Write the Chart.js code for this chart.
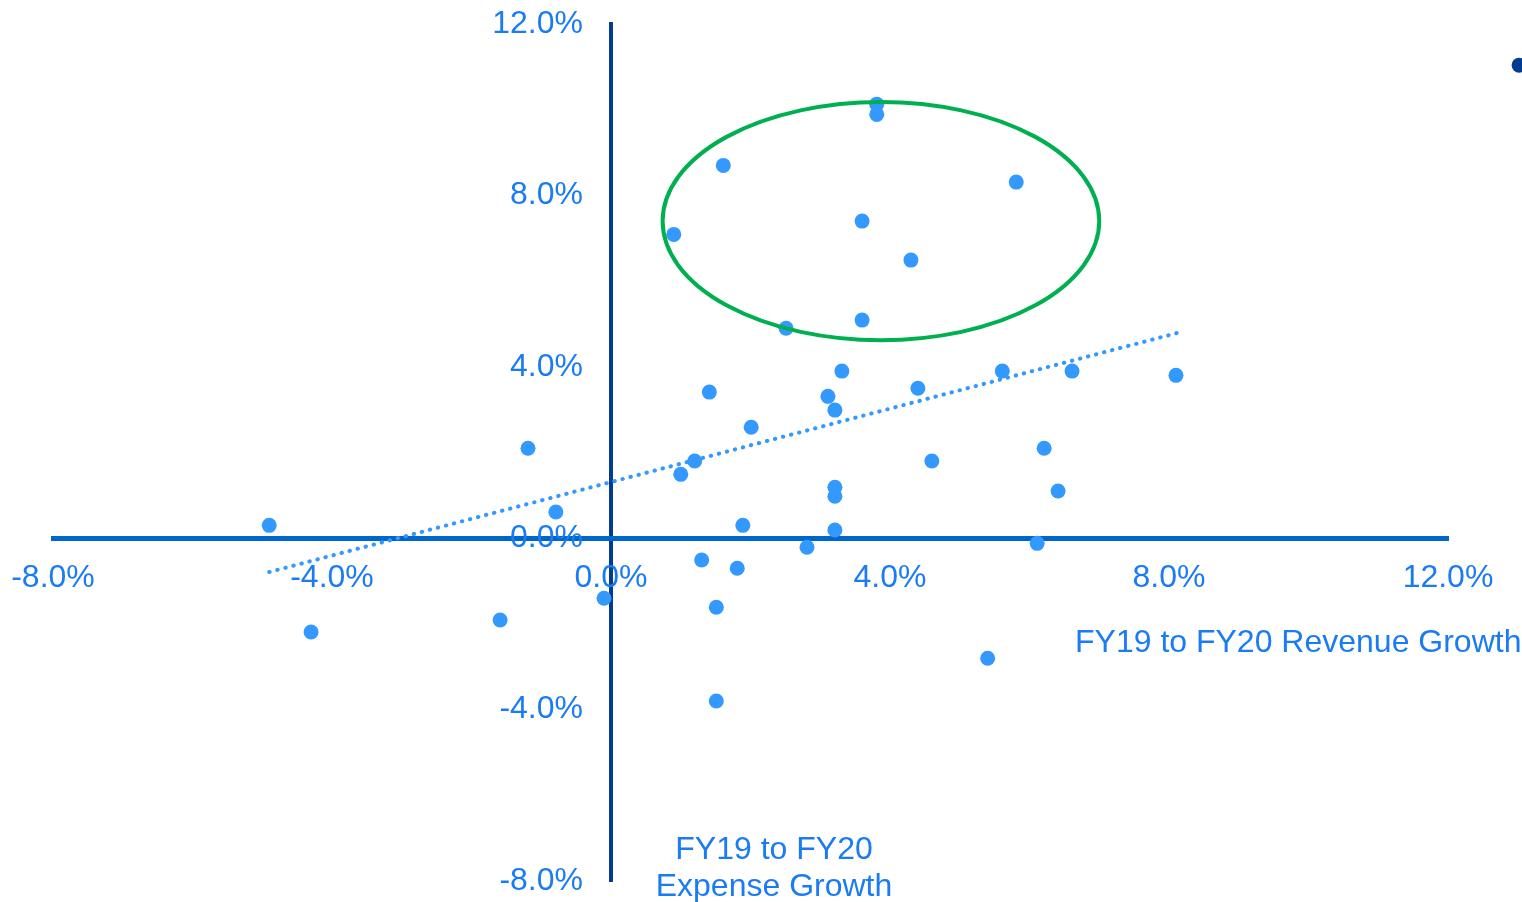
<!DOCTYPE html>
<html>
<head>
<meta charset="utf-8">
<script src="https://cdn.jsdelivr.net/npm/chart.js@4.4.1/dist/chart.umd.min.js"></script>
<style>
  html, body { margin: 0; padding: 0; background: #fff; }
  #wrap { position: relative; width: 1522px; height: 902px; }
  .title {
    position: absolute;
    font-family: "Liberation Sans", Arial, sans-serif;
    font-size: 32px;
    color: #1a7cf5;
    white-space: nowrap;
  }
</style>
</head>
<body>
<div id="wrap">
  <canvas id="chart" width="1522" height="902"></canvas>
  <div class="title" id="revTitle" style="left:1075px; top:623px;">FY19 to FY20 Revenue Growth</div>
  <div class="title" id="expTitle" style="left:774px; top:830px; transform:translateX(-50%); text-align:center; line-height:37px;">FY19 to FY20<br>Expense Growth</div>
</div>
<script>
// Growth, in percent
const revenueGrowth = [3.81, 3.81, 1.61, 5.81, 0.90, 3.60, 4.30, 2.51, 3.60, 3.31,
  5.61, 6.61, 8.10, 1.41, 4.40, 3.11, 3.21, 2.01, -1.19, 6.21,
  1.20, 4.60, 1.00, 3.21, 3.21, 6.41, -0.79, -4.90, 1.89, 3.21,
  2.81, 6.11, 1.30, 1.81, -0.10, 1.51, -1.59, -4.30, 5.40, 1.51];
const expenseGrowth = [10.13, 9.89, 8.70, 8.31, 7.09, 7.40, 6.49, 4.90, 5.09, 3.90,
  3.90, 3.90, 3.80, 3.41, 3.50, 3.31, 2.99, 2.59, 2.10, 2.10,
  1.80, 1.80, 1.49, 1.19, 0.98, 1.10, 0.61, 0.30, 0.30, 0.19,
  -0.21, -0.12, -0.51, -0.70, -1.40, -1.61, -1.91, -2.19, -2.80, -3.80];

// dotted trend line ends
const trendX = [-4.90, 8.12];
const trendY = [-0.79, 4.79];

// legend marker, mostly cut off at the right edge
const legendX = [13.02];
const legendY = [11.04];

// highlighted group: centre x, centre y, radius x, radius y
const highlight = [3.87, 7.40, 3.13, 2.78];

const tickValues = [-8, -4, 0, 4, 8, 12];
const axisMin = -8;
const axisMax = 12;

const labelColor = "#1a7cf5";
const pointColor = "#3399ff";
const fontFamily = "'Liberation Sans', Arial, sans-serif";

const toPoints = (xs, ys) => xs.map((x, i) => ({ x: x, y: ys[i] }));
const fmt = (v) => v.toFixed(1) + "%";

const ellipsePlugin = {
  id: "highlightEllipse",
  afterDatasetsDraw(chart) {
    const { ctx, scales } = chart;
    const cx = scales.x.getPixelForValue(highlight[0]);
    const cy = scales.y.getPixelForValue(highlight[1]);
    const rx = Math.abs(scales.x.getPixelForValue(highlight[0] + highlight[2]) - cx);
    const ry = Math.abs(scales.y.getPixelForValue(highlight[1] + highlight[3]) - cy);
    ctx.save();
    ctx.beginPath();
    ctx.ellipse(cx, cy, rx, ry, 0, 0, Math.PI * 2);
    ctx.strokeStyle = "#00b050";
    ctx.lineWidth = 4;
    ctx.stroke();
    ctx.restore();
  }
};

// points of unclipped datasets that lie outside the plot area
const outsidePointsPlugin = {
  id: "outsidePoints",
  afterDatasetsDraw(chart) {
    const full = { left: 0, top: 0, right: chart.width, bottom: chart.height };
    chart.data.datasets.forEach((ds, i) => {
      if (ds.clip !== false) return;
      chart.getDatasetMeta(i).data.forEach((pt) => pt.draw(chart.ctx, full));
    });
  }
};

// y tick labels sit left of the centred axis, with a gap
const yLabelsPlugin = {
  id: "yLabels",
  beforeDatasetsDraw(chart) {
    const { ctx, scales } = chart;
    const x0 = scales.x.getPixelForValue(0);
    ctx.save();
    ctx.font = "32px " + fontFamily;
    ctx.fillStyle = labelColor;
    ctx.textAlign = "right";
    ctx.textBaseline = "middle";
    scales.y.ticks.forEach((t) => {
      ctx.fillText(fmt(t.value), x0 - 28, scales.y.getPixelForValue(t.value));
    });
    ctx.restore();
  }
};

const fixRange = (axis) => { axis.min = axisMin; axis.max = axisMax; };
const setTicks = (axis) => { axis.ticks = tickValues.map(v => ({ value: v })); };
const noPadding = (axis) => {
  axis.paddingLeft = 0; axis.paddingRight = 0; axis.paddingTop = 0; axis.paddingBottom = 0;
};

new Chart(document.getElementById("chart").getContext("2d"), {
  type: "scatter",
  data: {
    datasets: [
      {
        label: "Trend",
        type: "line",
        data: toPoints(trendX, trendY),
        borderColor: pointColor,
        borderWidth: 4,
        borderDash: [0.5, 7.8],
        borderCapStyle: "round",
        pointRadius: 0,
        fill: false
      },
      {
        label: "Companies",
        data: toPoints(revenueGrowth, expenseGrowth),
        backgroundColor: pointColor,
        borderWidth: 0,
        pointRadius: 7.5,
        pointHoverRadius: 7.5
      },
      {
        label: "Legend",
        data: toPoints(legendX, legendY),
        backgroundColor: "#003c8f",
        borderWidth: 0,
        pointRadius: 7.5,
        clip: false
      }
    ]
  },
  options: {
    responsive: false,
    animation: false,
    layout: { padding: { left: 53, right: 74, top: 24, bottom: 21 } },
    plugins: { legend: { display: false }, tooltip: { enabled: false } },
    scales: {
      y: {
        type: "linear",
        position: { x: 0 },
        afterDataLimits: fixRange,
        afterBuildTicks: setTicks,
        afterFit: noPadding,
        grid: { display: false },
        border: { display: true, color: "#003c8f", width: 4 },
        ticks: { display: false }
      },
      x: {
        type: "linear",
        position: { y: 0 },
        afterDataLimits: fixRange,
        afterBuildTicks: setTicks,
        afterFit: noPadding,
        grid: { display: false },
        border: { display: true, color: "#0066cc", width: 5 },
        ticks: {
          color: labelColor,
          font: { family: fontFamily, size: 32 },
          padding: 13,
          maxRotation: 0,
          callback: (v) => fmt(v)
        }
      }
    }
  },
  plugins: [yLabelsPlugin, outsidePointsPlugin, ellipsePlugin]
});
</script>
</body>
</html>
